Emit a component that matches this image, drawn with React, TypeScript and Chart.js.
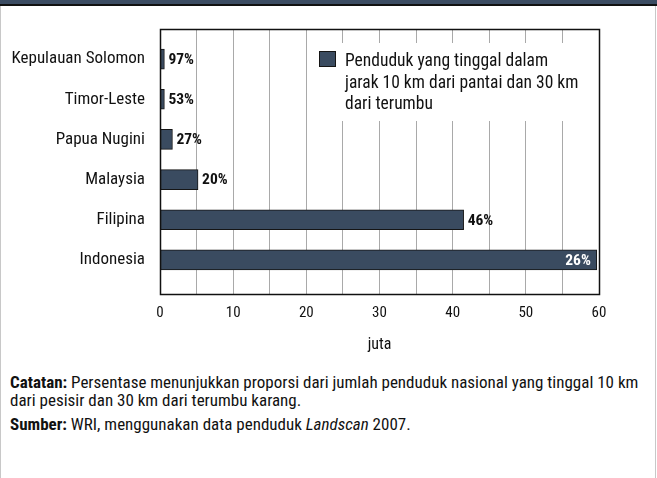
import React, { useEffect, useRef } from "react";
import { Chart, registerables } from "chart.js";

Chart.register(...registerables);

const categories = ["Kepulauan Solomon", "Timor-Leste", "Papua Nugini", "Malaysia", "Filipina", "Indonesia"];
const populationMillions = [0.6, 0.6, 1.7, 5.2, 41.5, 59.7];
const shareLabels = ["97%", "53%", "27%", "20%", "46%", "26%"];
const legendLines = ["Penduduk yang tinggal dalam", "jarak 10 km dari pantai dan 30 km", "dari terumbu"];
const axisTitle = "juta";

const FONT = "'Liberation Sans Narrow', 'Roboto Condensed', 'DejaVu Sans Condensed', 'Liberation Sans', sans-serif";
const BAR = "#3a4b60";
const EDGE = "#151515";

const overlayPlugin = {
  id: "overlay",
  beforeDatasetsDraw(chart: any) {
    const { ctx, chartArea } = chart;
    ctx.save();
    ctx.fillStyle = "#ffffff";
    ctx.fillRect(308, 43, chartArea.right - 308, 78);
    ctx.fillStyle = BAR;
    ctx.fillRect(319.5, 51.5, 16, 15);
    ctx.strokeStyle = EDGE;
    ctx.lineWidth = 1;
    ctx.strokeRect(319.5, 51.5, 16, 15);
    ctx.fillStyle = "#111";
    ctx.font = `17.5px ${FONT}`;
    ctx.textAlign = "left";
    ctx.textBaseline = "middle";
    legendLines.forEach((t, i) => ctx.fillText(t, 345, 62 + i * 21.5));
    ctx.restore();
  },
  afterDatasetsDraw(chart: any) {
    const { ctx, chartArea } = chart;
    ctx.save();
    const meta = chart.getDatasetMeta(0);
    ctx.font = `bold 15.5px ${FONT}`;
    ctx.textBaseline = "middle";
    meta.data.forEach((bar: any, i: number) => {
      const label = shareLabels[i];
      if (bar.x > chartArea.right - 40) {
        ctx.fillStyle = "#ffffff";
        ctx.textAlign = "right";
        ctx.fillText(label, bar.x - 6, bar.y + 1);
      } else {
        ctx.fillStyle = "#111";
        ctx.textAlign = "left";
        ctx.fillText(label, bar.x + 4, bar.y + 1);
      }
    });
    ctx.strokeStyle = "#111";
    ctx.lineWidth = 1.5;
    ctx.strokeRect(
      Math.round(chartArea.left) + 0.5,
      Math.round(chartArea.top) + 0.5,
      Math.round(chartArea.right - chartArea.left),
      Math.round(chartArea.bottom - chartArea.top)
    );
    ctx.restore();
  },
};

function ChartCanvas() {
  const ref = useRef<HTMLCanvasElement | null>(null);
  useEffect(() => {
    if (!ref.current) return;
    Chart.defaults.font.family = FONT;
    const chart = new Chart(ref.current, {
      type: "bar",
      data: {
        datasets: [
          {
            label: legendLines.join(" "),
            data: populationMillions.map((v, i) => ({ x: v, y: i })),
            backgroundColor: BAR,
            borderColor: EDGE,
            borderWidth: 1,
            borderSkipped: false,
            barThickness: 20,
          },
        ],
      },
      options: {
        indexAxis: "y",
        animation: false,
        responsive: false,
        devicePixelRatio: 1,
        layout: { padding: { top: 29, right: 58, left: 0, bottom: 0 } },
        plugins: { legend: { display: false }, tooltip: { enabled: false } },
        scales: {
          x: {
            type: "linear",
            position: "bottom",
            min: 0,
            max: 60,
            offset: false,
            border: { display: false },
            grid: { color: "#a9a9a9", lineWidth: 1, drawTicks: false, offset: false },
            ticks: {
              stepSize: 5,
              autoSkip: false,
              maxRotation: 0,
              padding: 10,
              color: "#111",
              font: { size: 15 },
              callback: (v: any) => (Number(v) % 10 === 0 ? String(v) : ""),
            },
            title: { display: true, text: axisTitle, color: "#111", font: { size: 16 }, padding: { top: 0, bottom: 10 } },
            afterFit: (s: any) => {
              s.height = 71;
            },
          },
          y: {
            type: "linear",
            reverse: true,
            min: -0.75,
            max: 5.85,
            offset: false,
            border: { display: false },
            grid: { display: false, drawTicks: false, offset: false },
            afterBuildTicks: (s: any) => {
              s.ticks = categories.map((_, i) => ({ value: i }));
            },
            ticks: {
              autoSkip: false,
              padding: 15,
              color: "#111",
              font: { size: 17 },
              callback: (v: any) => categories[Number(v)] ?? "",
            },
            afterFit: (s: any) => {
              s.width = 160;
            },
          },
        },
      },
      plugins: [overlayPlugin],
    } as any);
    return () => chart.destroy();
  }, []);
  return <canvas ref={ref} width={657} height={365} style={{ position: "absolute", left: 0, top: 0, width: 657, height: 365 }} />;
}

export default function App() {
  return (
    <div
      style={{
        position: "absolute",
        left: 0,
        top: 0,
        width: 657,
        height: 478,
        background: "#fff",
        overflow: "hidden",
        fontFamily: FONT,
        color: "#111",
      }}
    >
      <ChartCanvas />
      <div style={{ position: "absolute", left: 0, top: 0, width: 657, height: 4, background: "#3b4c62" }} />
      <div style={{ position: "absolute", left: 0, top: 4, width: 657, height: 2, background: "#111" }} />
      <div style={{ position: "absolute", left: 0, top: 6, width: 1, height: 472, background: "#c8c8c8" }} />
      <div style={{ position: "absolute", left: 655, top: 6, width: 1, height: 472, background: "#c8c8c8" }} />
      <div style={{ position: "absolute", left: 10, top: 373, width: 645, fontSize: 17, lineHeight: "18px" }}>
        <div>
          <b>Catatan:</b> Persentase menunjukkan proporsi dari jumlah penduduk nasional yang tinggal 10 km
          <br />
          dari pesisir dan 30 km dari terumbu karang.
        </div>
        <div style={{ marginTop: 6 }}>
          <b>Sumber:</b> WRI, menggunakan data penduduk <i>Landscan</i> 2007.
        </div>
      </div>
    </div>
  );
}
